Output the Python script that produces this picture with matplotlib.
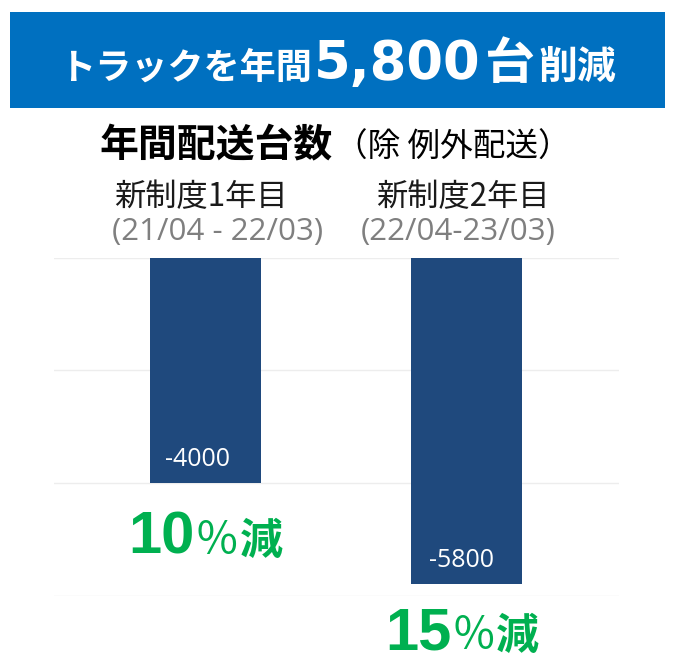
import matplotlib
matplotlib.use('Agg')
import matplotlib.pyplot as plt
from matplotlib.patches import Rectangle
from matplotlib.transforms import IdentityTransform

# ---------------- data ----------------
title_parts = ["トラックを年間", "5,800", "台", "削減"]
subtitle_main = "年間配送台数"
subtitle_note = "（除 例外配送）"
categories = ["新制度1年目", "新制度2年目"]
periods = ["(21/04 - 22/03)", "(22/04-23/03)"]
values = [-4000, -5800]
value_labels = ["-4000", "-5800"]
pct_values = ["10", "15"]
pct_suffix = ["％", "減"]
yticks = [0, -2000, -4000, -6000]

# ---------------- layout ----------------
W, H = 675, 665
CJK = ['Noto Sans CJK JP', 'DejaVu Sans']
fig = plt.figure(figsize=(W / 100, H / 100), dpi=100)
ID = IdentityTransform()


def fx(px):
    return px / W


def fy(py):
    return 1 - py / H


# banner
fig.patches.append(Rectangle((fx(10), fy(108)), fx(665) - fx(10), fy(12) - fy(108),
                             transform=fig.transFigure, facecolor='#0070C0',
                             edgecolor='none', zorder=0))

ax = fig.add_axes([fx(54), fy(595.5), fx(619) - fx(54), fy(257.5) - fy(595.5)])
xs = list(range(len(values)))
ax.bar(xs, values, width=0.426, color='#1F497D', zorder=2)
ax.set_ylim(min(yticks), max(yticks))
ax.set_xlim(-0.5816, 1.587)
ax.set_yticks(yticks)
ax.set_xticks([])
ax.yaxis.grid(True, color='#ededed', linewidth=1.0)
ax.set_axisbelow(True)
ax.tick_params(left=False, labelleft=False)
for s in ax.spines.values():
    s.set_visible(False)

renderer = fig.canvas.get_renderer()


def chain(pieces, cx, base_y, gaps=None, left=None):
    ts = [fig.text(0, 0, s, transform=ID, ha='left', va='baseline', **kw)
          for s, kw in pieces]
    ws = [t.get_window_extent(renderer).width for t in ts]
    gaps = gaps or [0] * (len(ts) - 1)
    total = sum(ws) + sum(gaps)
    x0 = (cx - total / 2) if left is None else left
    for i, t in enumerate(ts):
        t.set_position((x0, H - base_y))
        x0 += ws[i] + (gaps[i] if i < len(gaps) else 0)
    return ts


# title in banner
chain([(title_parts[0], dict(family=CJK, fontsize=26, weight='bold', color='white')),
       (title_parts[1], dict(family='DejaVu Sans', fontsize=38, weight='bold', color='white')),
       (title_parts[2], dict(family=CJK, fontsize=36, weight='bold', color='white')),
       (title_parts[3], dict(family=CJK, fontsize=28, weight='bold', color='white'))],
      337.5, 79, gaps=[2, 4, 4])

# subtitle
chain([(subtitle_main, dict(family=CJK, fontsize=28, weight='bold', color='black')),
       (subtitle_note, dict(family=CJK, fontsize=23.5, color='black'))],
      0, 157, gaps=[2], left=100)

# category labels and bar annotations
cat_dx = [-5, -3]
per_dx = [12, -8]
val_dx = [-8, -5]
pct_dx = [0, -4]
pct_dy = [71, 65]
for i, v in enumerate(values):
    cx, y0 = ax.transData.transform((xs[i], 0))
    _, yb = ax.transData.transform((xs[i], v))
    ybot = H - yb
    chain([(categories[i], dict(family=CJK, fontsize=22.5, color='#1a1a1a'))],
          cx + cat_dx[i], 206)
    chain([(periods[i], dict(family='Open Sans', fontsize=22.5, color='#7f7f7f'))],
          cx + per_dx[i], 240)
    chain([(value_labels[i], dict(family='Open Sans', fontsize=18, color='white'))],
          cx + val_dx[i], ybot - 17)
    chain([(pct_values[i], dict(family='Liberation Sans', fontsize=43, weight='bold', color='#00B050')),
           (pct_suffix[0], dict(family=CJK, fontsize=32, color='#00B050')),
           (pct_suffix[1], dict(family=CJK, fontsize=31, weight='bold', color='#00B050'))],
          cx + pct_dx[i], ybot + pct_dy[i], gaps=[0, 0])

fig.savefig('out.png', dpi=100)
